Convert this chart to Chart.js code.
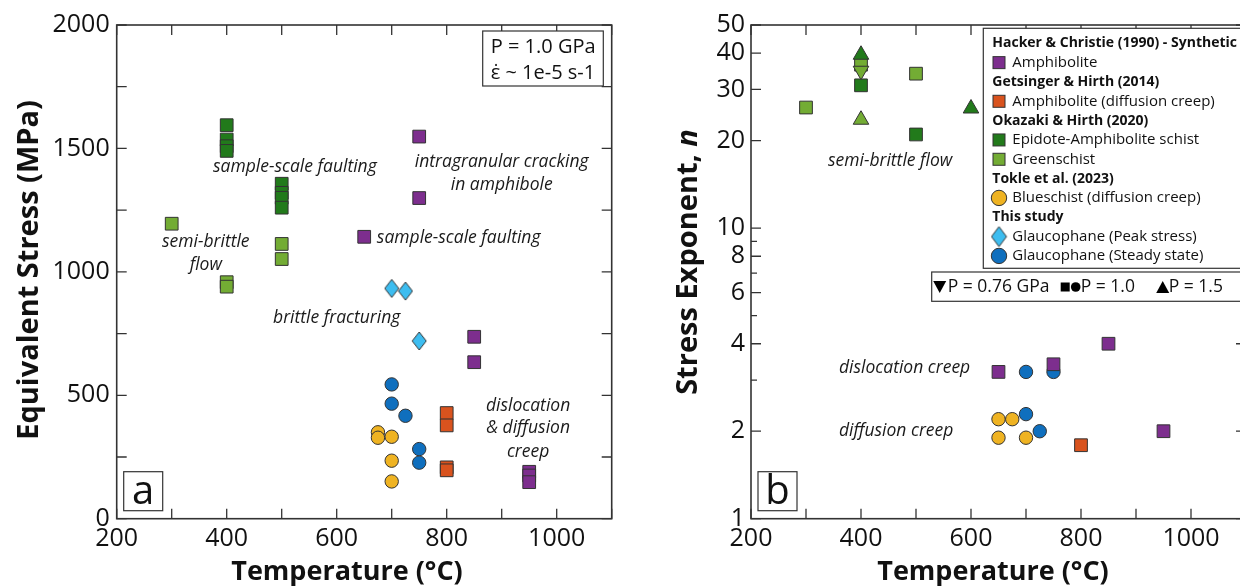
<!DOCTYPE html>
<html><head><meta charset="utf-8">
<script src="https://cdn.jsdelivr.net/npm/chart.js@4.4.1/dist/chart.umd.min.js"></script>
<style>
html,body{margin:0;padding:0;background:#fff;overflow:hidden;width:1240px;height:588px;}
#wa{position:absolute;left:0;top:0;width:640px;height:588px;}
#wb{position:absolute;left:640px;top:0;width:660px;height:588px;}
canvas{display:block;}
</style></head><body>
<div id="wa"><canvas id="ca" width="640" height="588"></canvas></div>
<div id="wb"><canvas id="cb" width="660" height="588"></canvas></div>
<script>
// ---------------- DATA ----------------
// Panel a: Equivalent stress (MPa) vs temperature (°C)
const hackerA_T = [750, 750, 650, 850, 850, 950, 950, 950];
const hackerA_S = [1548, 1299, 1142, 737, 634, 190, 175, 148];
const getsA_T = [800, 800, 800, 800];
const getsA_S = [428, 378, 208, 196];
const okaEA_A_T = [400, 400, 400, 400, 500, 500, 500, 500];
const okaEA_A_S = [1594, 1536, 1509, 1490, 1357, 1320, 1300, 1260];
const okaGS_A_T = [300, 400, 400, 500, 500];
const okaGS_A_S = [1195, 958, 940, 1113, 1052];
const tokleA_T = [675, 675, 700, 700, 700];
const tokleA_S = [350, 328, 332, 235, 151];
const peakA_T = [700, 725, 750];
const peakA_S = [933, 922, 720];
const steadyA_T = [700, 700, 725, 750, 750];
const steadyA_S = [544, 466, 417, 282, 227];

// Panel b: stress exponent n vs temperature (°C)
const hackerB_T = [650, 750, 850, 950];
const hackerB_N = [3.2, 3.4, 4.0, 2.0];
const getsB_T = [800];
const getsB_N = [1.79];
const okaEA_B_T = [400, 500];          // P = 1.0
const okaEA_B_N = [31, 21];
const okaEA_B15_T = [400, 600];        // P = 1.5
const okaEA_B15_N = [39.5, 25.8];
const okaGS_B_T = [300, 400, 500];     // P = 1.0
const okaGS_B_N = [26, 36.5, 34];
const okaGS_B15_T = [400];             // P = 1.5
const okaGS_B15_N = [23.6];
const okaGS_B076_T = [400];            // P = 0.76
const okaGS_B076_N = [34.8];
const tokleB_T = [650, 650, 675, 700];
const tokleB_N = [2.2, 1.9, 2.2, 1.9];
const steadyB_T = [700, 750, 700, 725];
const steadyB_N = [3.2, 3.2, 2.29, 2.0];

// Ticks
const xTickVals = [200, 300, 400, 500, 600, 700, 800, 900, 1000, 1100];
const xLabelVals = [200, 400, 600, 800, 1000];
const yTickValsA = [0, 250, 500, 750, 1000, 1250, 1500, 1750, 2000];
const yLabelValsA = [0, 500, 1000, 1500, 2000];
const yTickValsB = [1, 2, 3, 4, 5, 6, 7, 8, 9, 10, 20, 30, 40, 50];
const yLabelValsB = [1, 2, 4, 6, 8, 10, 20, 30, 40, 50];

// Labels
const seriesNames = {
  hacker: 'Amphibolite',
  gets: 'Amphibolite (diffusion creep)',
  okaEA: 'Epidote-Amphibolite schist',
  okaGS: 'Greenschist',
  tokle: 'Blueschist (diffusion creep)',
  peak: 'Glaucophane (Peak stress)',
  steady: 'Glaucophane (Steady state)'
};
const legendHeaders = ['Hacker & Christie (1990) - Synthetic', 'Getsinger & Hirth (2014)', 'Okazaki & Hirth (2020)', 'Tokle et al. (2023)', 'This study'];
const pressureLabels = ['P = 0.76 GPa', 'P = 1.0', 'P = 1.5'];
const infoLines = ['P = 1.0 GPa', 'ε\u0307 ~ 1e-5 s-1'];

// Annotations (data coordinates)
const annotA = [
  {t: 'sample-scale faulting', x: 524, y: 1426, al: 'center'},
  {t: 'intragranular cracking', x: 900, y: 1446, al: 'center'},
  {t: 'in amphibole', x: 900, y: 1352, al: 'center'},
  {t: 'semi-brittle', x: 362, y: 1122, al: 'center'},
  {t: 'flow', x: 362, y: 1028, al: 'center'},
  {t: 'sample-scale faulting', x: 673, y: 1138, al: 'left'},
  {t: 'brittle fracturing', x: 600, y: 814, al: 'center'},
  {t: 'dislocation', x: 948, y: 458, al: 'center'},
  {t: '& diffusion', x: 948, y: 366, al: 'center'},
  {t: 'creep', x: 948, y: 271, al: 'center'}
];
const annotB = [
  {t: 'semi-brittle flow', x: 453, y: 16.96, al: 'center'},
  {t: 'dislocation creep', x: 360, y: 3.296, al: 'left'},
  {t: 'diffusion creep', x: 360, y: 2.004, al: 'left'}
];

// ---------------- STYLE ----------------
const COL = {purple: '#7d2e8e', orange: '#d9531e', dkgreen: '#227a1b', ltgreen: '#73ac34',
  yellow: '#efb322', cyan: '#3dbdf0', blue: '#0f6fbe', edge: '#333333'};
const FONT = '"Open Sans", "DejaVu Sans", sans-serif';
const TXT = '#111111';
const AXC = '#333333';

function makeDiamond(w, h, fill) {
  const c = document.createElement('canvas');
  c.width = w + 2; c.height = h + 2;
  const g = c.getContext('2d');
  g.beginPath();
  g.moveTo(c.width / 2, 1); g.lineTo(c.width - 1, c.height / 2);
  g.lineTo(c.width / 2, c.height - 1); g.lineTo(1, c.height / 2); g.closePath();
  g.fillStyle = fill; g.fill(); g.lineWidth = 1; g.strokeStyle = COL.edge; g.stroke();
  return c;
}
const diamondImg = makeDiamond(14, 18, COL.cyan);
const diamondLeg = makeDiamond(15, 20, COL.cyan);

function pts(T, V) { return T.map((t, i) => ({x: t, y: V[i]})); }
function ds(label, T, V, color, style, extra) {
  const r = style === 'circle' ? 6.7 : 9;
  return Object.assign({label, data: pts(T, V), showLine: false,
    pointStyle: style, pointRadius: r, pointHoverRadius: r,
    pointBackgroundColor: color, pointBorderColor: COL.edge, pointBorderWidth: 1,
    backgroundColor: color, borderColor: COL.edge}, extra || {});
}

function xAxis() {
  return {type: 'linear', min: 200, max: 1100, position: 'bottom',
    grid: {display: false, drawTicks: false}, border: {display: false},
    afterBuildTicks: s => { s.ticks = xTickVals.map(v => ({value: v})); },
    ticks: {autoSkip: false, maxRotation: 0, minRotation: 0, padding: 5, font: {family: FONT, size: 25}, color: TXT,
      callback: v => xLabelVals.includes(v) ? String(v) : ''},
    afterFit: s => { s.height = 588 - 518.7; }};
}

function frameTicksPlugin(yMajor) {
  return {id: 'frameTicks', beforeDatasetsDraw(chart) {
    const ctx = chart.ctx, a = chart.chartArea, xs = chart.scales.x, ys = chart.scales.y;
    ctx.save(); ctx.strokeStyle = AXC; ctx.lineWidth = 1.3; ctx.beginPath();
    xs.ticks.forEach(t => { const p = xs.getPixelForValue(t.value);
      ctx.moveTo(p, a.bottom); ctx.lineTo(p, a.bottom - 10); ctx.moveTo(p, a.top); ctx.lineTo(p, a.top + 10); });
    ys.ticks.forEach(t => { const p = ys.getPixelForValue(t.value);
      const L = (!yMajor || yMajor.includes(t.value)) ? 10 : 6;
      ctx.moveTo(a.left, p); ctx.lineTo(a.left + L, p); ctx.moveTo(a.right, p); ctx.lineTo(a.right - L, p); });
    ctx.stroke();
    ctx.lineWidth = 1.6;
    ctx.strokeRect(a.left, a.top, a.right - a.left, a.bottom - a.top);
    ctx.restore();
  }};
}

function drawAnnots(chart, list) {
  const ctx = chart.ctx, xs = chart.scales.x, ys = chart.scales.y;
  ctx.save(); ctx.font = 'italic 17.5px ' + FONT; ctx.fillStyle = '#1a1a1a'; ctx.textBaseline = 'middle';
  list.forEach(o => { ctx.textAlign = o.al; ctx.fillText(o.t, xs.getPixelForValue(o.x), ys.getPixelForValue(o.y)); });
  ctx.restore();
}

function drawPanelLetter(ctx, a, letter) {
  ctx.save();
  ctx.fillStyle = '#fff'; ctx.strokeStyle = AXC; ctx.lineWidth = 1.2;
  const x = a.left + 7, y = a.bottom - 47, w = 39, h = 39;
  ctx.fillRect(x, y, w, h); ctx.strokeRect(x, y, w, h);
  ctx.fillStyle = TXT; ctx.font = '40px ' + FONT; ctx.textAlign = 'center'; ctx.textBaseline = 'alphabetic';
  ctx.fillText(letter, x + w / 2, y + h - 7);
  ctx.restore();
}

function xTitle(ctx, text, cx) {
  ctx.save(); ctx.fillStyle = TXT; ctx.font = 'bold 27px ' + FONT; ctx.textAlign = 'center'; ctx.textBaseline = 'alphabetic';
  ctx.fillText(text, cx, 580); ctx.restore();
}

function drawMarker(ctx, kind, x, y, color) {
  ctx.save(); ctx.fillStyle = color; ctx.strokeStyle = COL.edge; ctx.lineWidth = 1;
  if (kind === 'rect') { ctx.fillRect(x - 6, y - 6, 12, 12); ctx.strokeRect(x - 6, y - 6, 12, 12); }
  else if (kind === 'circle') { ctx.beginPath(); ctx.arc(x, y, 7.7, 0, Math.PI * 2); ctx.fill(); ctx.stroke(); }
  else if (kind === 'diamond') { ctx.drawImage(diamondLeg, x - diamondLeg.width / 2, y - diamondLeg.height / 2); }
  ctx.restore();
}

// ---------------- CHART A ----------------
function buildA() {
  const datasets = [
    ds(seriesNames.hacker, hackerA_T, hackerA_S, COL.purple, 'rect'),
    ds(seriesNames.gets, getsA_T, getsA_S, COL.orange, 'rect'),
    ds(seriesNames.okaEA, okaEA_A_T, okaEA_A_S, COL.dkgreen, 'rect'),
    ds(seriesNames.okaGS, okaGS_A_T, okaGS_A_S, COL.ltgreen, 'rect'),
    ds(seriesNames.peak, peakA_T, peakA_S, COL.cyan, diamondImg),
    ds(seriesNames.steady, steadyA_T, steadyA_S, COL.blue, 'circle'),
    ds(seriesNames.tokle, tokleA_T, tokleA_S, COL.yellow, 'circle')
  ];
  const extras = {id: 'extrasA', afterDatasetsDraw(chart) {
    const ctx = chart.ctx, a = chart.chartArea;
    drawAnnots(chart, annotA);
    // info box
    ctx.save();
    const bx = a.right - 129, by = a.top + 6, bw = 120.6, bh = 55;
    ctx.fillStyle = '#fff'; ctx.fillRect(bx, by, bw, bh);
    ctx.strokeStyle = AXC; ctx.lineWidth = 1.2; ctx.strokeRect(bx, by, bw, bh);
    ctx.fillStyle = TXT; ctx.font = '20px ' + FONT; ctx.textAlign = 'left'; ctx.textBaseline = 'middle';
    ctx.fillText(infoLines[0], bx + 8, by + 16);
    ctx.fillText(infoLines[1], bx + 8, by + 42);
    ctx.restore();
    drawPanelLetter(ctx, a, 'a');
  }, afterDraw(chart) {
    const ctx = chart.ctx;
    xTitle(ctx, 'Temperature (°C)', 347);
    ctx.save(); ctx.translate(38, 270); ctx.rotate(-Math.PI / 2);
    ctx.fillStyle = TXT; ctx.font = 'bold 29px ' + FONT; ctx.textAlign = 'center'; ctx.textBaseline = 'alphabetic';
    ctx.fillText('Equivalent Stress (MPa)', 0, 0); ctx.restore();
  }};
  return new Chart(document.getElementById('ca'), {
    type: 'scatter', data: {datasets},
    options: {responsive: false, animation: false, events: [],
      layout: {padding: {left: 0, top: 25, right: 640 - 611.7, bottom: 0}},
      plugins: {legend: {display: false}, tooltip: {enabled: false}},
      scales: {
        x: xAxis(),
        y: {type: 'linear', min: 0, max: 2000, position: 'left',
          grid: {display: false, drawTicks: false}, border: {display: false},
          afterBuildTicks: s => { s.ticks = yTickValsA.map(v => ({value: v})); },
          ticks: {autoSkip: false, padding: 7, font: {family: FONT, size: 25}, color: TXT,
            callback: v => yLabelValsA.includes(v) ? String(v) : ''},
          afterFit: s => { s.width = 116.7; }}
      }},
    plugins: [frameTicksPlugin(null), extras]
  });
}

// ---------------- CHART B ----------------
function buildB() {
  const datasets = [
    ds(seriesNames.hacker, hackerB_T, hackerB_N, COL.purple, 'rect'),
    ds(seriesNames.gets, getsB_T, getsB_N, COL.orange, 'rect'),
    ds(seriesNames.okaEA + ' (P=1.5)', okaEA_B15_T, okaEA_B15_N, COL.dkgreen, 'triangle'),
    ds(seriesNames.okaGS + ' (P=0.76)', okaGS_B076_T, okaGS_B076_N, COL.ltgreen, 'triangle', {pointRotation: 180}),
    ds(seriesNames.okaGS, okaGS_B_T, okaGS_B_N, COL.ltgreen, 'rect'),
    ds(seriesNames.okaGS + ' (P=1.5)', okaGS_B15_T, okaGS_B15_N, COL.ltgreen, 'triangle'),
    ds(seriesNames.okaEA, okaEA_B_T, okaEA_B_N, COL.dkgreen, 'rect'),
    ds(seriesNames.steady, steadyB_T, steadyB_N, COL.blue, 'circle'),
    ds(seriesNames.tokle, tokleB_T, tokleB_N, COL.yellow, 'circle')
  ];
  const legendRows = [
    {h: legendHeaders[0]}, {m: 'rect', c: COL.purple, t: seriesNames.hacker},
    {h: legendHeaders[1]}, {m: 'rect', c: COL.orange, t: seriesNames.gets},
    {h: legendHeaders[2]}, {m: 'rect', c: COL.dkgreen, t: seriesNames.okaEA}, {m: 'rect', c: COL.ltgreen, t: seriesNames.okaGS},
    {h: legendHeaders[3]}, {m: 'circle', c: COL.yellow, t: seriesNames.tokle},
    {h: legendHeaders[4]}, {m: 'diamond', c: COL.cyan, t: seriesNames.peak}, {m: 'circle', c: COL.blue, t: seriesNames.steady}
  ];
  const extras = {id: 'extrasB', afterDatasetsDraw(chart) {
    const ctx = chart.ctx, a = chart.chartArea;
    drawAnnots(chart, annotB);
    // legend box
    ctx.save();
    const lx = a.left + 232.3, ly = 28.3, lw = a.right - 3 - lx, lh = 240;
    ctx.fillStyle = '#fff'; ctx.fillRect(lx, ly, lw, lh);
    ctx.strokeStyle = AXC; ctx.lineWidth = 1.2; ctx.strokeRect(lx, ly, lw, lh);
    const rowY0 = 43.3, rowH = 19.33;
    legendRows.forEach((r, i) => {
      const y = rowY0 + i * rowH;
      ctx.fillStyle = TXT; ctx.textAlign = 'left'; ctx.textBaseline = 'middle';
      if (r.h) { ctx.font = 'bold 14px ' + FONT; ctx.fillText(r.h, lx + 9, y); }
      else { drawMarker(ctx, r.m, lx + 15.7, y, r.c); ctx.fillStyle = TXT; ctx.font = '15px ' + FONT; ctx.fillText(r.t, lx + 29, y); }
    });
    // pressure box
    const px = a.left + 180.7, py = 272, pw = a.right - 3 - px, ph = 29.3;
    ctx.fillStyle = '#fff'; ctx.fillRect(px, py, pw, ph);
    ctx.strokeStyle = AXC; ctx.lineWidth = 1.2; ctx.strokeRect(px, py, pw, ph);
    const cy = py + 15;
    ctx.fillStyle = '#000';
    // down triangle
    ctx.beginPath(); ctx.moveTo(px + 1.5, cy - 6); ctx.lineTo(px + 14.5, cy - 6); ctx.lineTo(px + 8, cy + 6); ctx.closePath(); ctx.fill();
    // square + circle
    ctx.fillRect(px + 129, cy - 4.5, 9, 9);
    ctx.beginPath(); ctx.arc(px + 144, cy, 4.8, 0, Math.PI * 2); ctx.fill();
    // up triangle
    ctx.beginPath(); ctx.moveTo(px + 224.5, cy + 6); ctx.lineTo(px + 237.5, cy + 6); ctx.lineTo(px + 231, cy - 6); ctx.closePath(); ctx.fill();
    ctx.fillStyle = TXT; ctx.font = '17.5px ' + FONT; ctx.textAlign = 'left'; ctx.textBaseline = 'middle';
    ctx.fillText(pressureLabels[0], px + 16, cy);
    ctx.fillText(pressureLabels[1], px + 149, cy);
    ctx.fillText(pressureLabels[2], px + 237, cy);
    ctx.restore();
    drawPanelLetter(ctx, a, 'b');
  }, afterDraw(chart) {
    const ctx = chart.ctx;
    xTitle(ctx, 'Temperature (°C)', 353);
    ctx.save(); ctx.translate(57, 262); ctx.rotate(-Math.PI / 2);
    ctx.fillStyle = TXT; ctx.textBaseline = 'alphabetic'; ctx.textAlign = 'left';
    const f1 = 'bold 29px ' + FONT, f2 = 'italic bold 29px ' + FONT;
    const s1 = 'Stress Exponent, ', s2 = 'n';
    ctx.font = f1; const w1 = ctx.measureText(s1).width;
    ctx.font = f2; const w2 = ctx.measureText(s2).width;
    const x0 = -(w1 + w2) / 2;
    ctx.font = f1; ctx.fillText(s1, x0, 0);
    ctx.font = f2; ctx.fillText(s2, x0 + w1, 0);
    ctx.restore();
  }};
  return new Chart(document.getElementById('cb'), {
    type: 'scatter', data: {datasets},
    options: {responsive: false, animation: false, events: [],
      layout: {padding: {left: 0, top: 25, right: 660 - 606, bottom: 0}},
      plugins: {legend: {display: false}, tooltip: {enabled: false}},
      scales: {
        x: xAxis(),
        y: {type: 'logarithmic', min: 1, max: 50, position: 'left',
          grid: {display: false, drawTicks: false}, border: {display: false},
          afterBuildTicks: s => { s.ticks = yTickValsB.map(v => ({value: v})); },
          ticks: {autoSkip: false, padding: 6, font: {family: FONT, size: 25}, color: TXT,
            callback: v => yLabelValsB.includes(v) ? String(v) : ''},
          afterFit: s => { s.width = 751 - 640; }}
      }},
    plugins: [frameTicksPlugin(yLabelValsB), extras]
  });
}

function go() { buildA(); buildB(); }
const loads = ['25px "Open Sans"', 'bold 27px "Open Sans"', 'italic 17px "Open Sans"', 'italic bold 29px "Open Sans"'].map(f => document.fonts.load(f).catch(() => null));
Promise.race([Promise.all(loads), new Promise(r => setTimeout(r, 800))]).then(go);
</script>
</body></html>
